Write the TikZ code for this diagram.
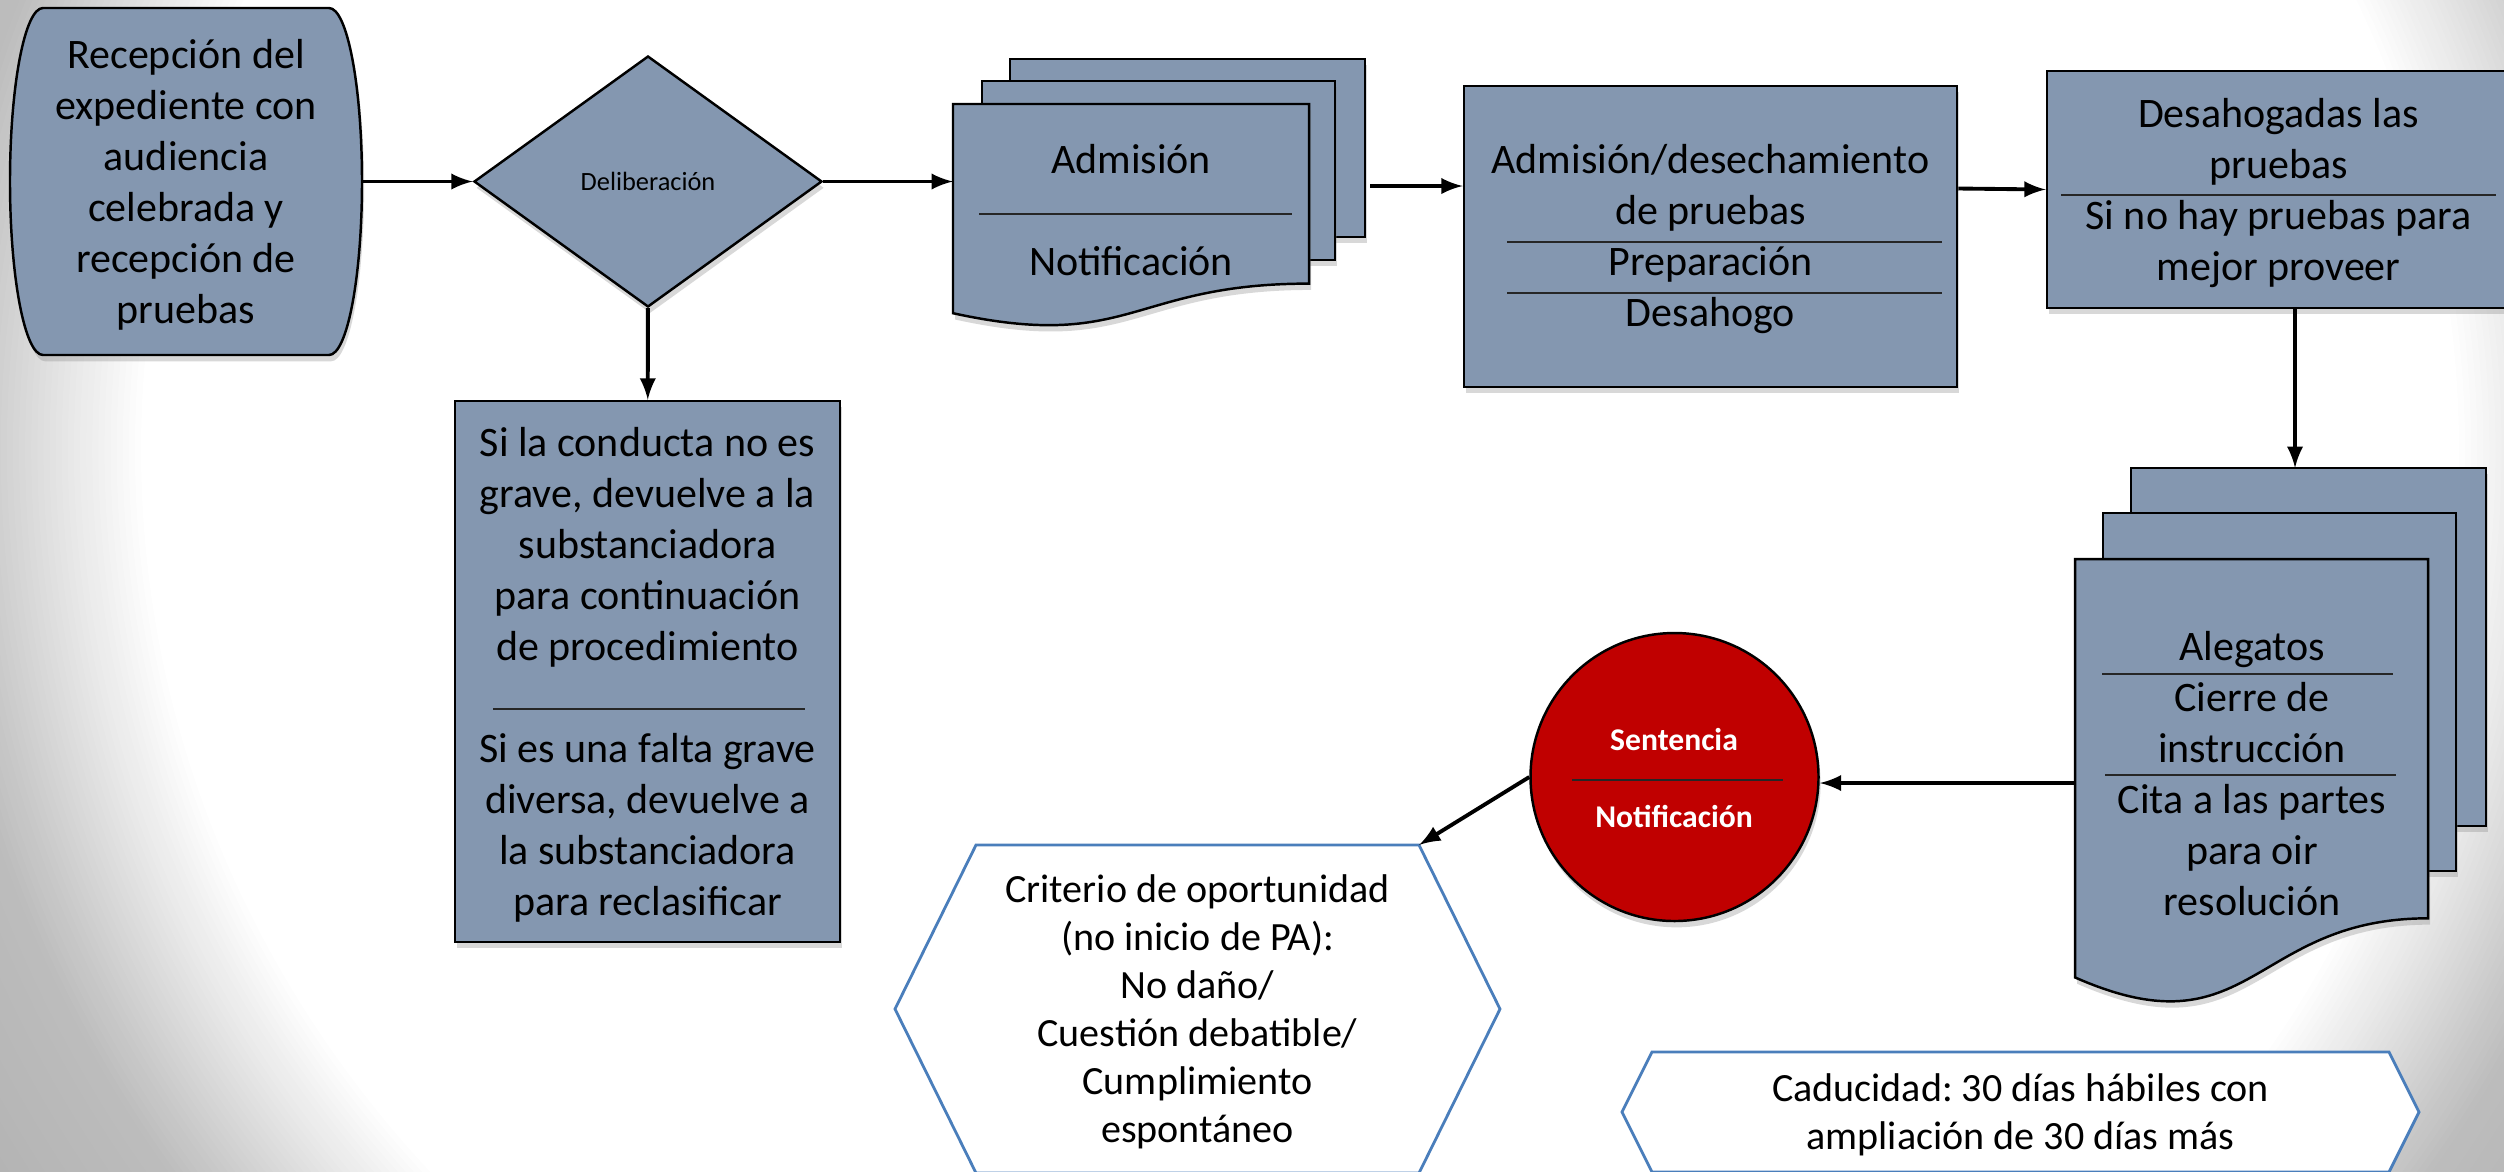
\documentclass[tikz,border=0pt]{standalone}
\usepackage{fontspec}
\setmainfont{Carlito}
\usetikzlibrary{calc}
\usetikzlibrary{shapes,arrows,shadows}

\definecolor{slate}{RGB}{132,151,176}
\definecolor{sentred}{RGB}{192,0,0}
\definecolor{hexline}{RGB}{74,126,187}

\begin{document}
\frenchspacing
\begin{tikzpicture}[
    box/.style={draw=black, line width=0.7pt, fill=slate, drop shadow={opacity=0.3, shadow xshift=0.6pt, shadow yshift=-1.8pt}},
    txt/.style={font=\fontsize{11.95}{14.5}\selectfont, align=center, inner sep=0pt},
    htxt/.style={font=\fontsize{11.4}{13.65}\selectfont, align=center, inner sep=0pt},
    ctxt/.style={font=\fontsize{9}{11}\selectfont\bfseries, text=white, inner sep=0pt},
    sep/.style={line width=0.5pt, black!85},
    hexa/.style={draw=hexline, line width=0.8pt, fill=white},
    arr/.style={-latex, line width=1.1pt}
  ]
    \useasboundingbox (0,0) rectangle (25.04,-11.71);
    \clip (0,0) rectangle (25.04,-11.71);
    \fill[black!34] (0,0) rectangle (25.04,-11.71);
    \foreach \k in {280,...,190} {
        \pgfmathsetmacro{\r}{\k/200}
        \pgfmathsetmacro{\g}{\r>1.12 ? 26+(\r-1.12)/0.28*8 : (\r-0.95)/0.17*26}
        \fill[black!\g] (13,-4.5) ellipse [x radius=12.2*\r, y radius=11.5*\r];
    }
    \fill[white] (13,-4.5) ellipse [x radius=12.2*0.95, y radius=11.5*0.95];

    \coordinate (admisL) at (9.53,-1.815);
    \coordinate (admisR) at (13.70,-1.86);
    \coordinate (alegT) at (22.95,-4.68);
    \coordinate (alegL) at (20.75,-7.83);
    \coordinate (critTR) at (14.19,-8.45);

    \draw[box] (0.43,-0.08) -- (3.29,-0.08) arc[start angle=90, end angle=-90, x radius=0.33, y radius=1.735]
        -- (0.43,-3.55) arc[start angle=270, end angle=90, x radius=0.33, y radius=1.735] -- cycle;
    \node[txt, minimum width=3.52cm, minimum height=3.47cm] (recep) at (1.86,-1.85)
        {Recepción del\\expediente con\\audiencia\\celebrada y\\recepción de\\pruebas};

    \node[box, diamond, minimum width=3.48cm, minimum height=2.51cm, inner sep=0pt,
        font=\fontsize{7.5}{9}\selectfont] (delib) at (6.48,-1.815) {Deliberación};

    \node[box, minimum width=3.85cm, minimum height=5.41cm] (cond) at (6.475,-6.715) {};
    \node[txt] (cond1) at (6.475,-5.475) {Si la conducta no es\\grave, devuelve a la\\substanciadora\\para continuación\\de procedimiento};
    \draw[sep] (4.93,-7.09) -- (8.05,-7.09);
    \node[txt] (cond2) at (6.475,-8.28) {Si es una falta grave\\diversa, devuelve a\\la substanciadora\\para reclasificar};

    \draw[box] (10.10,-0.59) rectangle (13.65,-2.37);
    \draw[box] (9.82,-0.81) rectangle (13.35,-2.60);
    \draw[box] (9.53,-1.04) -- (13.09,-1.04) -- (13.09,-2.836)
        .. controls (11.31,-2.836) and (11.31,-3.521) .. (9.53,-3.132) -- cycle;
    \node[txt, anchor=base] (admis1) at (11.31,-1.73) {Admisión};
    \draw[sep] (9.79,-2.14) -- (12.92,-2.14);
    \node[txt, anchor=base] (admis2) at (11.31,-2.75) {Notificación};

    \node[box, minimum width=4.93cm, minimum height=3.01cm] (admdes) at (17.105,-2.365) {};
    \node[txt] (admdes1) at (17.105,-2.39) {Admisión/desechamiento\\de pruebas\\Preparación\\Desahogo};
    \draw[sep] (15.07,-2.42) -- (19.42,-2.42);
    \draw[sep] (15.07,-2.93) -- (19.42,-2.93);

    \node[box, minimum width=4.63cm, minimum height=2.37cm] (desah) at (22.785,-1.895) {};
    \node[txt] (desah1) at (22.785,-1.93) {Desahogadas las\\pruebas\\Si no hay pruebas para\\mejor proveer};
    \draw[sep] (20.61,-1.95) -- (24.96,-1.95);

    \draw[box] (21.31,-4.68) rectangle (24.86,-8.26);
    \draw[box] (21.03,-5.13) rectangle (24.56,-8.71);
    \draw[box] (20.75,-5.59) -- (24.28,-5.59) -- (24.28,-9.183)
        .. controls (22.515,-9.183) and (22.515,-10.552) .. (20.75,-9.774) -- cycle;
    \node[txt] (aleg1) at (22.52,-7.735) {Alegatos\\Cierre de\\instrucción\\Cita a las partes\\para oir\\resolución};
    \draw[sep] (21.02,-6.74) -- (23.93,-6.74);
    \draw[sep] (21.05,-7.75) -- (23.96,-7.75);

    \node[box, circle, fill=sentred, minimum size=2.88cm] (sent) at (16.745,-7.77) {};
    \node[ctxt, anchor=base] (sent1) at (16.74,-7.50) {Sentencia};
    \draw[sep] (15.72,-7.80) -- (17.83,-7.80);
    \node[ctxt, anchor=base] (sent2) at (16.74,-8.27) {Notificación};

    \draw[hexa] (8.95,-10.09) -- (9.76,-8.45) -- (14.19,-8.45) -- (15.00,-10.09) -- (14.19,-11.73) -- (9.76,-11.73) -- cycle;
    \node[htxt] (crit) at (11.975,-10.12) {Criterio de oportunidad\\(no inicio de PA):\\No daño/\\Cuestión debatible/\\Cumplimiento\\espontáneo};

    \draw[hexa] (16.22,-11.12) -- (16.52,-10.52) -- (23.89,-10.52) -- (24.19,-11.12) -- (23.89,-11.72) -- (16.52,-11.72) -- cycle;
    \node[htxt] (cadu) at (20.205,-11.15) {Caducidad: 30 días hábiles con\\ampliación de 30 días más};

    \draw[arr] (recep.east |- delib) -- (delib);
    \draw[arr] (delib) -- (admisL);
    \draw[arr] (delib) -- (cond);
    \draw[arr] (admisR) -- (admisR -| admdes.west);
    \draw[arr] ([yshift=0.48cm]admdes.east) -- (desah.west);
    \draw[arr] (alegT |- desah.south) -- (alegT);
    \draw[arr] (alegL) -- (alegL -| sent.east);
    \draw[arr] (sent.west) -- (critTR);
  \end{tikzpicture}
\end{document}
